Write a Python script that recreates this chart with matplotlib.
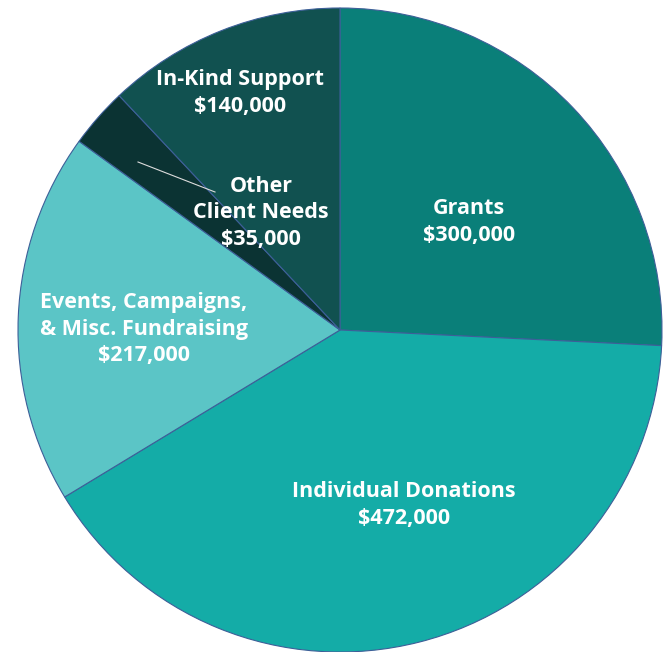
import matplotlib
matplotlib.use("Agg")
import matplotlib.pyplot as plt

# data
labels = ["Grants", "Individual Donations", "Events, Campaigns,\n& Misc. Fundraising",
          "Other\nClient Needs", "In-Kind Support"]
values = [300000, 472000, 217000, 35000, 140000]
colors = ["#0a7f79", "#14aca7", "#5bc5c6", "#0b3333", "#115150"]
# label centres in pixel coords (x, y from top)
label_pos = [(469, 222), (404, 505), (144, 329), (261, 213), (240, 93)]

W, H = 669, 652
cx, cy, R = 340, 330, 322

fig = plt.figure(figsize=(W / 100, H / 100), dpi=100)
ax = fig.add_axes([0, 0, 1, 1])

# y up, so flip the pixel y values
ax.pie(values, colors=colors, startangle=90, counterclock=False,
       radius=R, center=(cx, H - cy),
       wedgeprops=dict(edgecolor="#3d5f98", linewidth=0.8))
ax.set_xlim(0, W)
ax.set_ylim(0, H)
ax.set_aspect("auto")
ax.axis("off")

for lab, v, (x, y) in zip(labels, values, label_pos):
    ax.text(x, H - y, f"{lab}\n${v:,}", ha="center", va="center", color="white",
            fontsize=15.5, fontweight="bold", family="Open Sans", linespacing=1.35)

# leader line for small slice
ax.plot([138, 215], [H - 162, H - 192], color="#dddddd", linewidth=0.8)

fig.savefig("out.png", dpi=100)
